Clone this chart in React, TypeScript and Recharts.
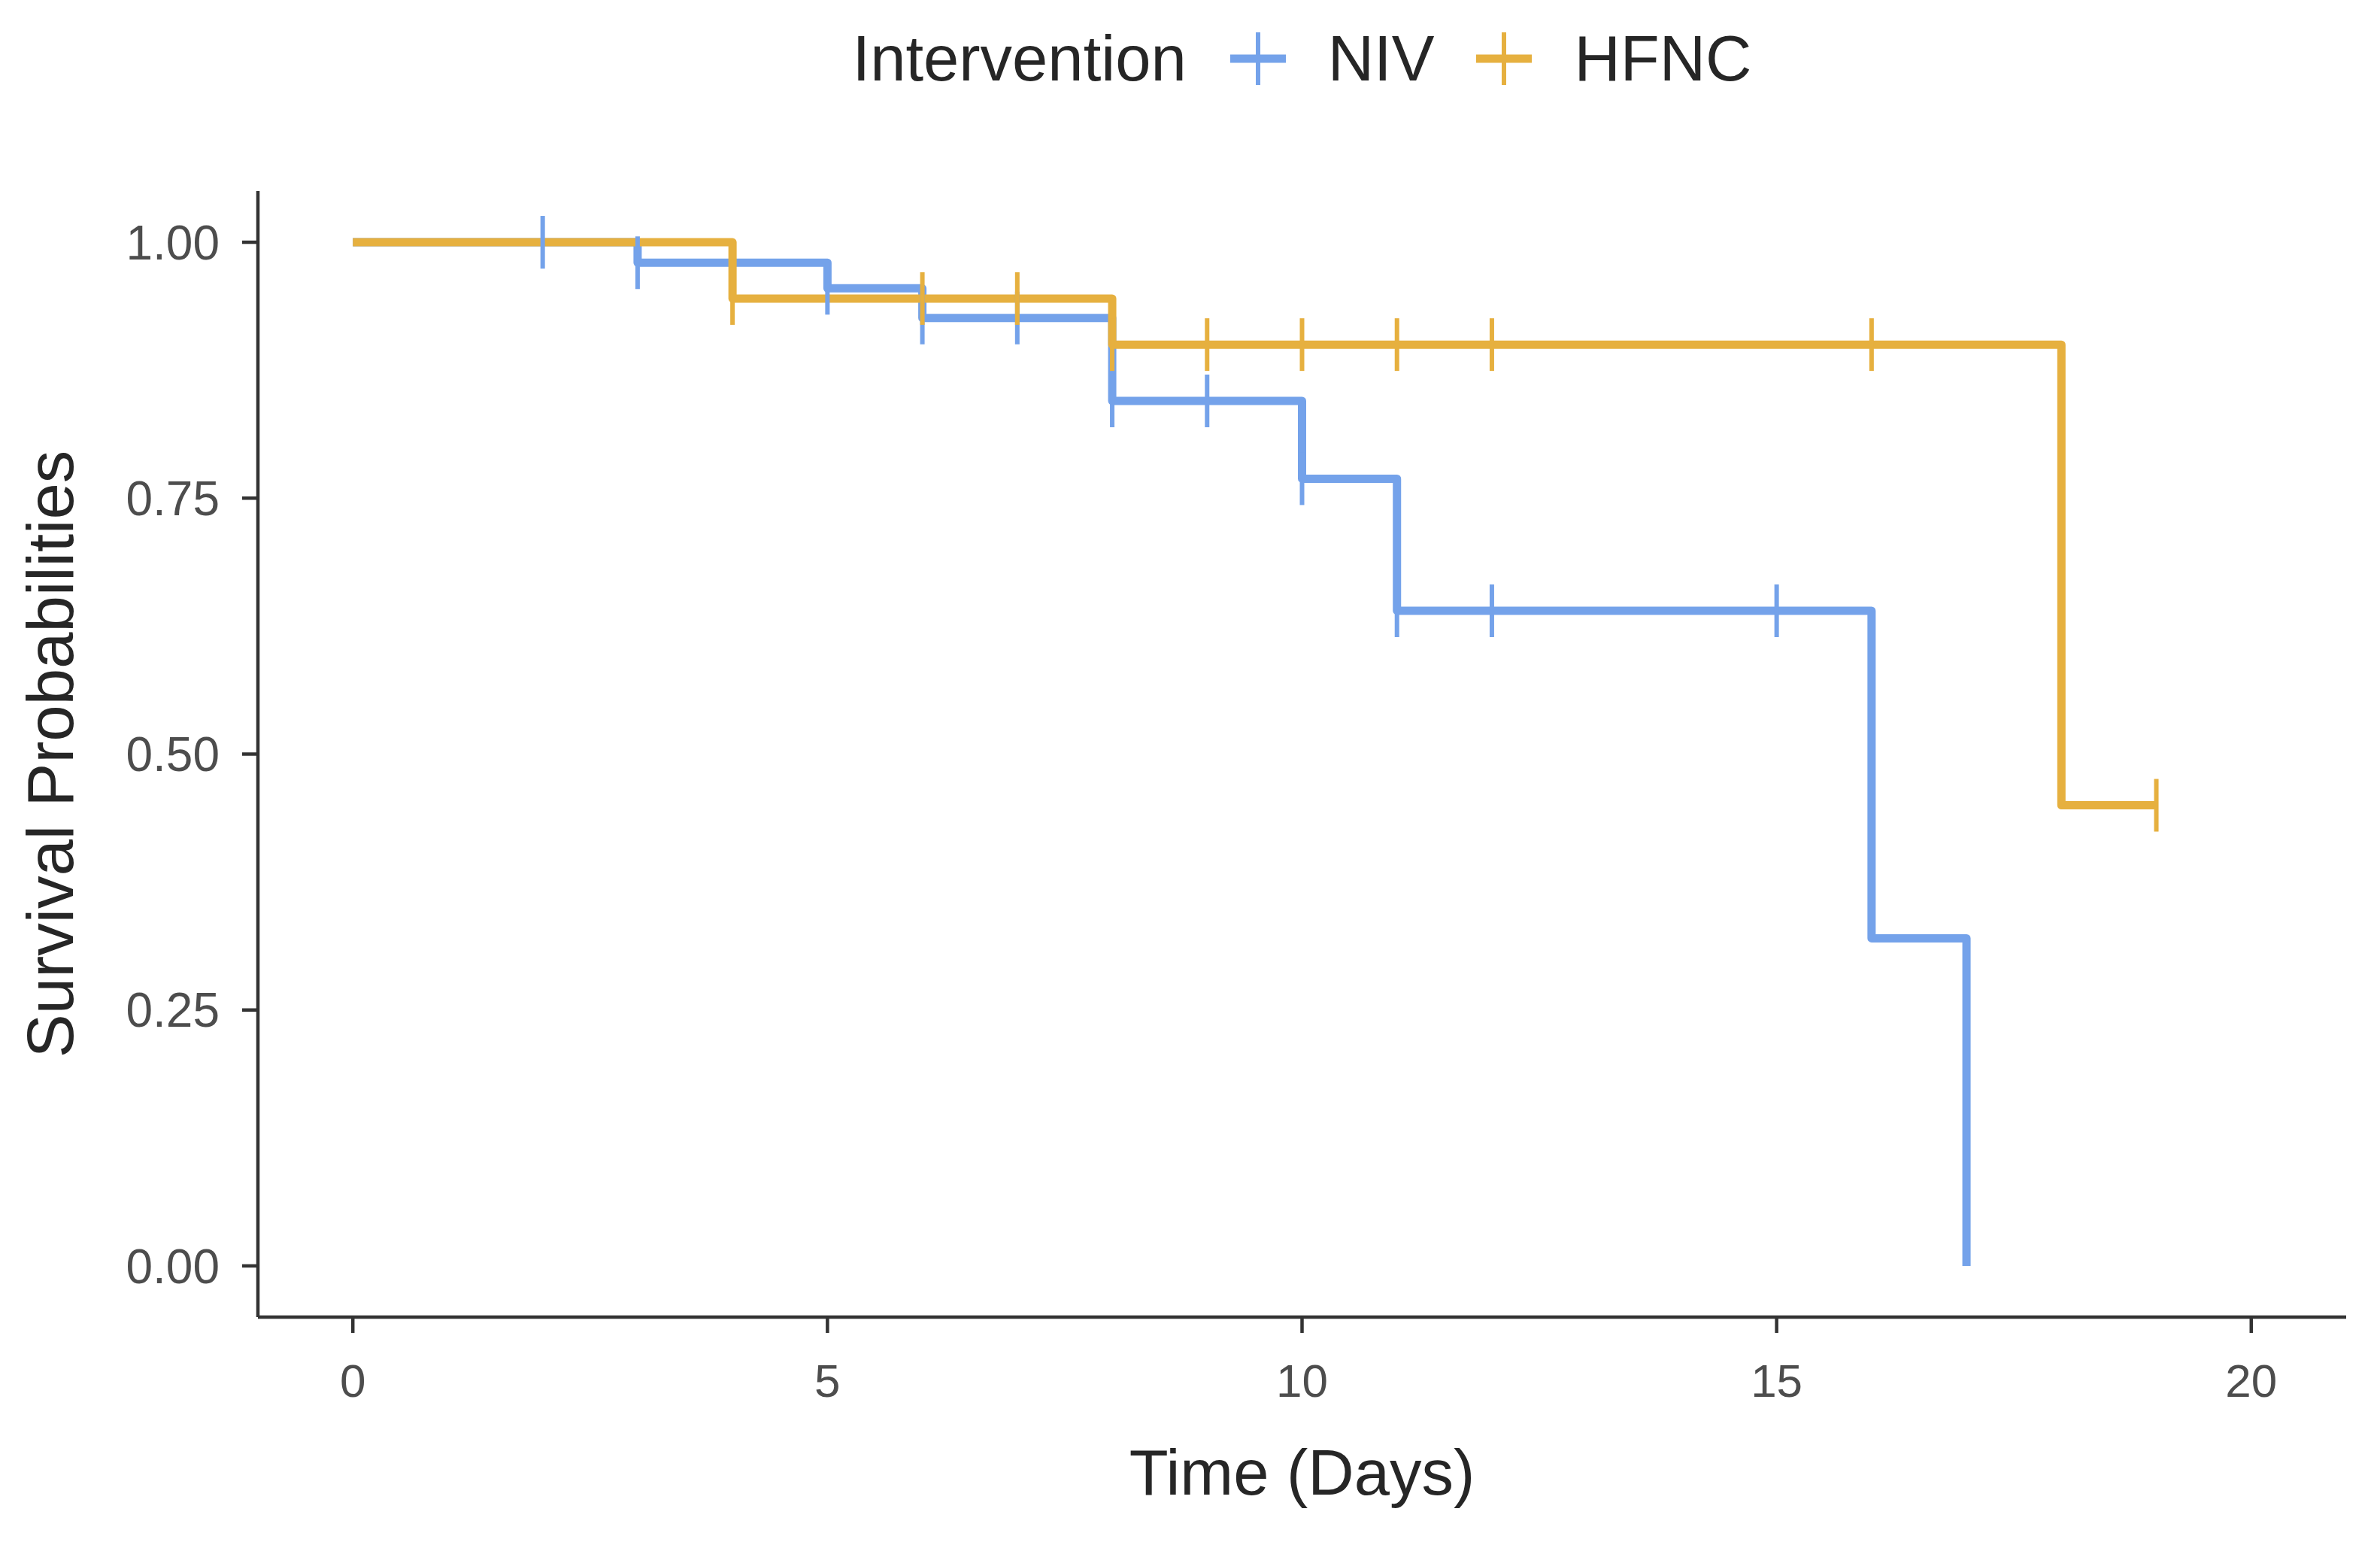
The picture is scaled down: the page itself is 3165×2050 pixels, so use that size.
import React from "react";
import { ComposedChart, Line, Scatter, XAxis, YAxis, Label } from "recharts";

const W = 3165;
const H = 2050;
const FONT = "'Liberation Sans', Arial, Helvetica, sans-serif";

const NIV_COLOR = "#74A2EA";
const HFNC_COLOR = "#E6B03F";

// Kaplan-Meier steps (time, survival)
const nivTimes = [0, 3, 5, 6, 8, 10, 11, 16, 17];
const nivSurv = [1, 0.98, 0.955, 0.926, 0.845, 0.769, 0.64, 0.32, 0];
const hfncTimes = [0, 4, 8, 18, 19];
const hfncSurv = [1, 0.945, 0.9, 0.45, 0.45];

// censoring marks
const nivCensorTimes = [2, 3, 5, 6, 7, 8, 9, 10, 11, 12, 15];
const nivCensorSurv = [1, 0.98, 0.955, 0.926, 0.926, 0.845, 0.845, 0.769, 0.64, 0.64, 0.64];
const hfncCensorTimes = [4, 6, 7, 8, 9, 10, 11, 12, 16, 19];
const hfncCensorSurv = [0.945, 0.945, 0.945, 0.9, 0.9, 0.9, 0.9, 0.9, 0.9, 0.45];

const xTicks = [0, 5, 10, 15, 20];
const yTicks = [0, 0.25, 0.5, 0.75, 1];

const groups = ["NIV", "HFNC"];
const legendTitle = "Intervention";

const zip = (ts: number[], ss: number[]) => ts.map((t, i) => ({ t, s: ss[i] }));

const nivData = zip(nivTimes, nivSurv);
const hfncData = zip(hfncTimes, hfncSurv);
const nivCensor = zip(nivCensorTimes, nivCensorSurv);
const hfncCensor = zip(hfncCensorTimes, hfncCensorSurv);

const censorShape = (color: string) => (props: any) => {
  const { cx, cy } = props;
  return <line x1={cx} x2={cx} y1={cy - 35} y2={cy + 35} stroke={color} strokeWidth={6} />;
};

const KeyGlyph = ({ color }: { color: string }) => (
  <svg width={74} height={74} style={{ display: "block" }}>
    <line x1={0} x2={74} y1={37} y2={37} stroke={color} strokeWidth={11} />
    <line x1={37} x2={37} y1={2} y2={72} stroke={color} strokeWidth={6} />
  </svg>
);

export default function App() {
  const colors = [NIV_COLOR, HFNC_COLOR];
  return (
    <div style={{ position: "absolute", left: 0, top: 0, width: W, height: H, background: "#fff", fontFamily: FONT }}>
      <div
        style={{
          position: "absolute",
          left: 343,
          width: 2777,
          top: 18,
          height: 120,
          display: "flex",
          alignItems: "center",
          justifyContent: "center",
          fontSize: 85,
          color: "#262626",
        }}
      >
        <span style={{ marginRight: 58 }}>{legendTitle}</span>
        {groups.map((g, i) => (
          <React.Fragment key={g}>
            <KeyGlyph color={colors[i]} />
            <span style={{ marginLeft: 56, marginRight: i === 0 ? 56 : 0 }}>{g}</span>
          </React.Fragment>
        ))}
      </div>
      <ComposedChart width={W} height={H} margin={{ top: 254, right: 45, bottom: 0, left: 0 }}>
        <XAxis
          type="number"
          dataKey="t"
          domain={[-1, 21]}
          ticks={xTicks}
          height={299}
          axisLine={{ stroke: "#333", strokeWidth: 4.5 }}
          tickLine={{ stroke: "#333", strokeWidth: 4.5 }}
          tickSize={21}
          tickMargin={41}
          tick={{ fill: "#4d4d4d", fontSize: 62, fontFamily: FONT }}
        >
          <Label
            content={({ viewBox }: any) => (
              <text
                x={viewBox.x + viewBox.width / 2}
                y={viewBox.y + 236}
                textAnchor="middle"
                fontSize={85}
                fontFamily={FONT}
                fill="#262626"
              >
                Time (Days)
              </text>
            )}
          />
        </XAxis>
        <YAxis
          type="number"
          dataKey="s"
          domain={[-0.05, 1.05]}
          ticks={yTicks}
          width={343}
          tickFormatter={(v: number) => v.toFixed(2)}
          axisLine={{ stroke: "#333", strokeWidth: 4.5 }}
          tickLine={{ stroke: "#333", strokeWidth: 4.5 }}
          tickSize={21}
          tickMargin={30}
          tick={{ fill: "#4d4d4d", fontSize: 64, fontFamily: FONT }}
        >
          <Label
            content={({ viewBox }: any) => {
              const x = viewBox.x + 97;
              const y = viewBox.y + viewBox.height / 2;
              return (
                <text
                  x={x}
                  y={y}
                  transform={`rotate(-90, ${x}, ${y})`}
                  textAnchor="middle"
                  fontSize={87}
                  fontFamily={FONT}
                  fill="#262626"
                >
                  Survival Probabilities
                </text>
              );
            }}
          />
        </YAxis>
        <Line
          data={nivData}
          dataKey="s"
          type="stepAfter"
          stroke={NIV_COLOR}
          strokeWidth={11}
          strokeLinejoin="round"
          dot={false}
          activeDot={false}
          isAnimationActive={false}
        />
        <Line
          data={hfncData}
          dataKey="s"
          type="stepAfter"
          stroke={HFNC_COLOR}
          strokeWidth={11}
          strokeLinejoin="round"
          dot={false}
          activeDot={false}
          isAnimationActive={false}
        />
        <Scatter data={nivCensor} dataKey="s" shape={censorShape(NIV_COLOR)} isAnimationActive={false} />
        <Scatter data={hfncCensor} dataKey="s" shape={censorShape(HFNC_COLOR)} isAnimationActive={false} />
      </ComposedChart>
    </div>
  );
}
